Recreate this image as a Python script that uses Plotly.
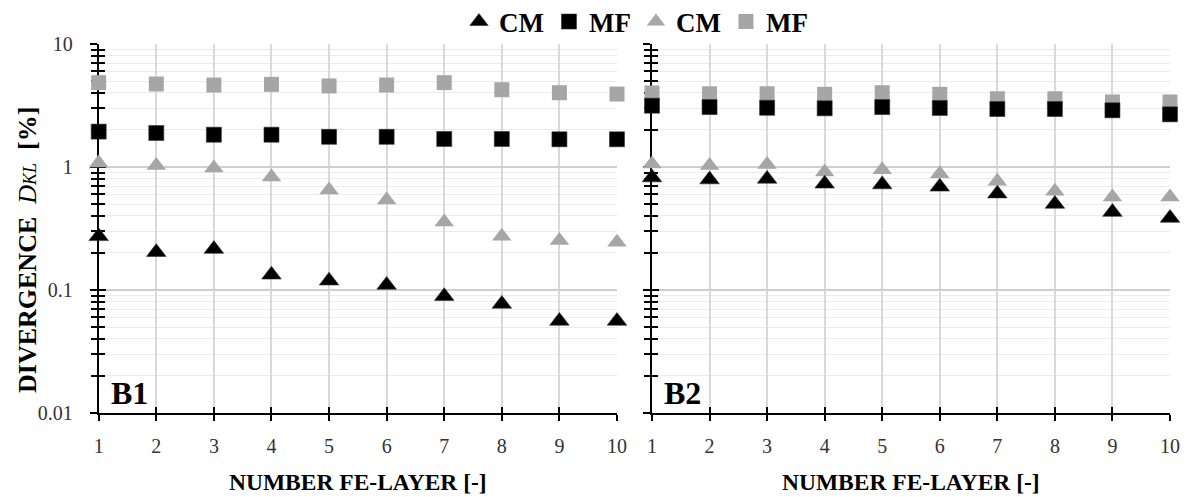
import plotly.graph_objects as go

layers = [1, 2, 3, 4, 5, 6, 7, 8, 9, 10]

# Panel B1
b1_cm_black = [0.273, 0.203, 0.215, 0.133, 0.119, 0.110, 0.089, 0.077, 0.056, 0.056]
b1_mf_black = [1.94, 1.89, 1.83, 1.83, 1.76, 1.76, 1.69, 1.69, 1.68, 1.68]
b1_cm_gray = [1.08, 1.03, 0.98, 0.83, 0.65, 0.54, 0.357, 0.273, 0.253, 0.244]
b1_mf_gray = [4.85, 4.73, 4.64, 4.70, 4.56, 4.64, 4.85, 4.25, 4.02, 3.92]

# Panel B2
b2_cm_black = [0.82, 0.79, 0.80, 0.73, 0.72, 0.69, 0.607, 0.50, 0.43, 0.385]
b2_mf_black = [3.15, 3.07, 3.03, 3.00, 3.07, 3.02, 2.96, 2.96, 2.89, 2.68]
b2_cm_gray = [1.06, 1.03, 1.05, 0.91, 0.95, 0.88, 0.765, 0.634, 0.57, 0.57]
b2_mf_gray = [4.00, 3.94, 3.94, 3.90, 4.02, 3.90, 3.59, 3.59, 3.38, 3.38]

y_major = [0.01, 0.1, 1, 10]
y_major_text = ["0.01", "0.1", "1", "10"]
y_minor = [m * d for d in (0.01, 0.1, 1) for m in range(2, 10)]

BLACK = "#000000"
GRAY = "#a6a6a6"
GRID = "#d9d9d9"
FONT = "Liberation Serif"

fig = go.Figure()

series = [
    (1, b1_mf_gray, "square", GRAY, "MF", 4),
    (1, b1_cm_gray, "triangle-up", GRAY, "CM", 3),
    (1, b1_mf_black, "square", BLACK, "MF", 2),
    (1, b1_cm_black, "triangle-up", BLACK, "CM", 1),
    (2, b2_mf_gray, "square", GRAY, "MF", 4),
    (2, b2_cm_gray, "triangle-up", GRAY, "CM", 3),
    (2, b2_mf_black, "square", BLACK, "MF", 2),
    (2, b2_cm_black, "triangle-up", BLACK, "CM", 1),
]
for panel, vals, sym, col, name, rank in series:
    fig.add_trace(go.Scatter(
        x=layers, y=vals, mode="markers",
        xaxis="x" if panel == 1 else "x2",
        yaxis="y" if panel == 1 else "y2",
        name=name, legendrank=rank, showlegend=(panel == 1),
        cliponaxis=False,
        marker=dict(symbol=sym, size=15 if sym == "square" else 17, color=col,
                    line=dict(width=0.6 if col == BLACK else 0, color="#333333")),
    ))

xd1 = [98.7 / 1186, 617 / 1186]
xd2 = [652 / 1186, 1170 / 1186]
yd = [1 - 413 / 497, 1 - 44 / 497]

def xax(domain, anchor, overlay=None):
    d = dict(domain=domain, anchor=anchor, range=[1, 10], tickvals=layers,
             ticktext=[str(v) for v in layers],
             showline=True, linecolor="black", linewidth=2,
             ticks="outside", ticklen=6, tickwidth=1.5, tickcolor="black",
             showgrid=True, gridcolor=GRID, gridwidth=1.5, zeroline=False,
             tickfont=dict(family=FONT, size=20, color="#333333"),
             ticklabelstandoff=8, layer="below traces", fixedrange=True,
             automargin=False)
    if overlay:
        d.update(overlaying=overlay, ticks="inside", showgrid=False,
                 showticklabels=False, showline=False)
    return d

def yax(anchor, labels, overlay=None):
    d = dict(domain=yd, anchor=anchor, type="log", range=[-2, 1],
             tickvals=y_major, ticktext=y_major_text, showticklabels=labels,
             showline=True, linecolor="black", linewidth=2,
             ticks="outside", ticklen=7, tickwidth=1.5, tickcolor="black",
             showgrid=True, gridcolor="#cfcfcf", gridwidth=1.5, zeroline=False,
             minor=dict(tickvals=y_minor, ticks="outside", ticklen=6, tickwidth=1.5,
                        tickcolor="black", showgrid=True, gridcolor="#ebebeb", gridwidth=1),
             tickfont=dict(family=FONT, size=20, color="#333333"),
             ticklabelstandoff=13, layer="below traces", fixedrange=True,
             automargin=False)
    if overlay:
        d.update(overlaying=overlay, ticks="inside", showgrid=False,
                 showticklabels=False, showline=False,
                 minor=dict(tickvals=y_minor, ticks="inside", ticklen=6, tickwidth=1.5,
                            tickcolor="black", showgrid=False))
    return d

fig.update_layout(
    width=1186, height=497,
    margin=dict(l=0, r=0, t=0, b=0, autoexpand=False),
    paper_bgcolor="white", plot_bgcolor="white",
    font=dict(family=FONT, color="black"),
    xaxis=xax(xd1, "y"),
    yaxis=yax("x", True),
    xaxis2=xax(xd2, "y2"),
    yaxis2=yax("x2", False),
    xaxis3=xax(xd1, "y", overlay="x"),
    yaxis3=yax("x", False, overlay="y"),
    xaxis4=xax(xd2, "y2", overlay="x2"),
    yaxis4=yax("x2", False, overlay="y2"),
    legend=dict(orientation="h", x=636 / 1186, xanchor="center", y=1 - 22 / 497,
                yanchor="middle", font=dict(family=FONT, size=27, weight="bold", color="black"),
                bgcolor="rgba(0,0,0,0)", itemwidth=30, traceorder="normal"),
    showlegend=True,
)

fig.add_trace(go.Scatter(x=[None], y=[None], xaxis="x3", yaxis="y3", showlegend=False, hoverinfo="skip"))
fig.add_trace(go.Scatter(x=[None], y=[None], xaxis="x4", yaxis="y4", showlegend=False, hoverinfo="skip"))

annotations = [
    dict(text="<b>B1</b>", xref="x domain", yref="y domain", x=0.02, y=0.0,
         xanchor="left", yanchor="bottom", showarrow=False,
         font=dict(family=FONT, size=32, color="black")),
    dict(text="<b>B2</b>", xref="x2 domain", yref="y2 domain", x=0.02, y=0.0,
         xanchor="left", yanchor="bottom", showarrow=False,
         font=dict(family=FONT, size=32, color="black")),
    dict(text="<b>NUMBER FE-LAYER [-]</b>", xref="x domain", yref="paper", x=0.5,
         y=1 - 482 / 497, xanchor="center", yanchor="middle", showarrow=False,
         font=dict(family=FONT, size=23.5, color="black")),
    dict(text="<b>NUMBER FE-LAYER [-]</b>", xref="x2 domain", yref="paper", x=0.5,
         y=1 - 482 / 497, xanchor="center", yanchor="middle", showarrow=False,
         font=dict(family=FONT, size=23.5, color="black")),
    dict(text="<b>DIVERGENCE</b>  <i>D<span style='font-size:18px'>KL</span></i>  <b>[%]</b>",
         xref="paper", yref="paper", x=28 / 1186, y=1 - 250 / 497,
         xanchor="center", yanchor="middle", textangle=-90, showarrow=False,
         font=dict(family=FONT, size=26, color="black")),
]
fig.update_layout(annotations=annotations)

fig.write_html("out.html")
